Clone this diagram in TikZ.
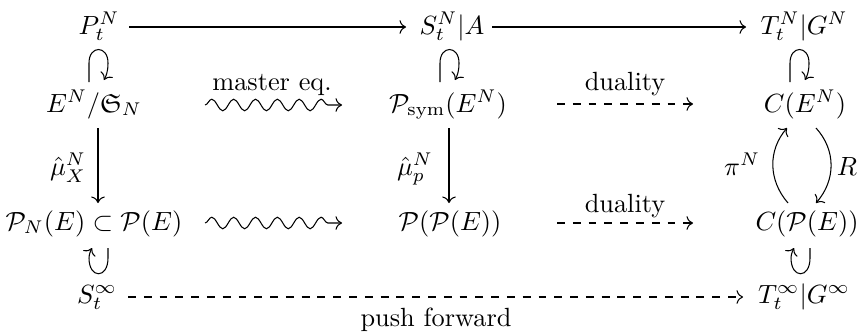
\documentclass[tikz,border=0pt]{standalone}
\usepackage{amsmath,amsfonts}
\usetikzlibrary{arrows.meta,decorations.pathmorphing}
\begin{document}
\begin{tikzpicture}[x=0.38pt,y=-0.38pt,
  >={Computer Modern Rightarrow},
  obj/.style={anchor=base,inner sep=0pt},
  lbl/.style={anchor=base,inner sep=0pt},
  arr/.style={->,line width=0.4pt},
  dasharr/.style={->,dashed,line width=0.4pt},
  wavearr/.style={->,line width=0.4pt,decorate,decoration={snake,amplitude=2.2pt,segment length=8.3pt,pre length=0pt,post length=2pt}},
  hook/.style={->,line width=0.4pt}]
\useasboundingbox (0,0) rectangle (859,333);
% row 1
\node[obj] (P) at (99,34) {$P_t^N$};
\node[obj] (S) at (452,34) {$S_t^N|A$};
\node[obj] (T) at (804,34) {$T_t^N|G^N$};
% row 2
\node[obj] (E) at (94,112) {$E^N/\mathfrak{S}_N$};
\node[obj] (Ps) at (448,112) {$\mathcal{P}_{\mathrm{sym}}(E^N)$};
\node[obj] (CE) at (805,112) {$C(E^N)$};
% row 3
\node[obj] (PN) at (94,230) {$\mathcal{P}_N(E)\subset\mathcal{P}(E)$};
\node[obj] (PP) at (450,230) {$\mathcal{P}(\mathcal{P}(E))$};
\node[obj] (CP) at (807,230) {$C(\mathcal{P}(E))$};
% row 4
\node[obj] (Si) at (97,303) {$S_t^\infty$};
\node[obj] (Ti) at (804,303) {$T_t^\infty|G^\infty$};
% coordinates
\coordinate (pa) at (129,27); \coordinate (sa) at (406,27);
\coordinate (sb) at (492,27); \coordinate (ta) at (746,27);
\coordinate (w1a) at (205,105); \coordinate (w1b) at (342,105);
\coordinate (w2a) at (205,223); \coordinate (w2b) at (342,223);
\coordinate (d1a) at (557,104); \coordinate (d1b) at (693,104);
\coordinate (d2a) at (557,223); \coordinate (d2b) at (693,223);
\coordinate (v1a) at (98,128); \coordinate (v1b) at (98,203);
\coordinate (v2a) at (449,128); \coordinate (v2b) at (449,203);
\coordinate (p1) at (788,203); \coordinate (p2) at (787,128);
\coordinate (r1) at (816,128); \coordinate (r2) at (816,203);
\coordinate (si) at (128,297); \coordinate (ti) at (743,297);
% row 1 arrows
\draw[arr] (pa) -- (sa);
\draw[arr] (sb) -- (ta);
% hooks (top: acting loops)
\foreach \hx in {89,440,790}{
  \draw[hook] (\hx,82) -- ++(0,-19) .. controls +(0,-18) and +(0,-18) .. ++(19,0)
     .. controls +(0,9) and +(2,-4) .. ++(-4,17);
}
% hooks (bottom)
\foreach \hx in {89,791}{
  \draw[hook] (\hx+19,248) -- ++(0,10) .. controls +(0,21) and +(0,21) .. ++(-19,0)
     .. controls +(0,-4) and +(-1,2) .. ++(3,-10);
}
% wavy arrows
\draw[wavearr] (w1a) -- (w1b);
\draw[wavearr] (w2a) -- (w2b);
\node[lbl] (me) at (272,90) {master eq.};
% duality
\draw[dasharr] (d1a) -- (d1b);
\draw[dasharr] (d2a) -- (d2b);
\node[lbl] (du1) at (625,90) {duality};
\node[lbl] (du2) at (625,212) {duality};
% vertical
\draw[arr] (v1a) -- (v1b);
\draw[arr] (v2a) -- (v2b);
\node[lbl] (mx) at (68,175) {$\hat\mu_X^N$};
\node[lbl] (mp) at (415,175) {$\hat\mu_p^N$};
% right curves
\draw[arr] (p1) .. controls (768,180) and (768,150) .. (p2);
\draw[arr] (r1) .. controls (836,150) and (836,180) .. (r2);
\node[lbl] (pi) at (742,175) {$\pi^N$};
\node[lbl] (R) at (847,175) {$R$};
% bottom
\draw[dasharr] (si) -- (ti);
\node[lbl] (pf) at (436,326) {push forward};
\end{tikzpicture}
\end{document}
